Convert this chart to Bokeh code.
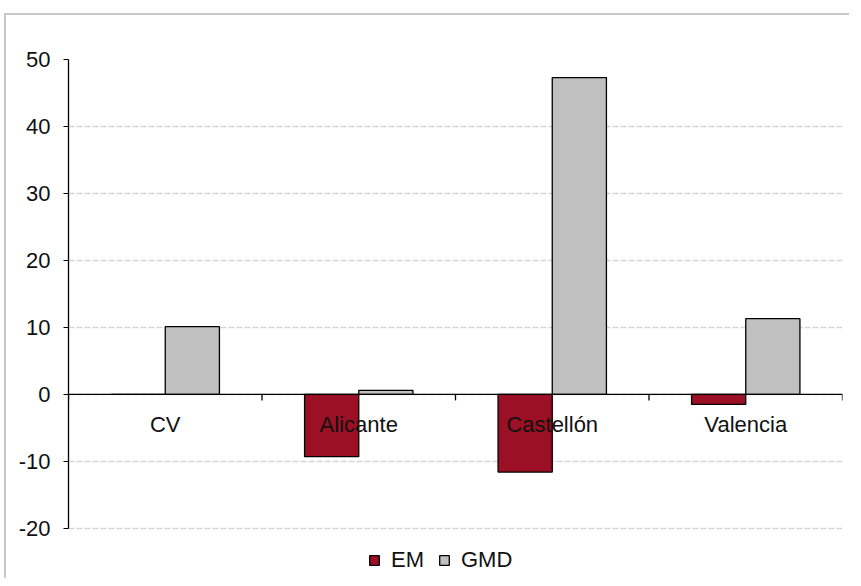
from bokeh.plotting import figure
from bokeh.models import FixedTicker, Legend, LegendItem, Range1d, ColumnDataSource, Span
from bokeh.core.properties import value
from bokeh.embed import file_html
from bokeh.resources import INLINE

categories = ["CV", "Alicante", "Castellón", "Valencia"]
em = [0.0, -9.3, -11.6, -1.5]
gmd = [10.1, 0.6, 47.3, 11.3]
y_ticks = [-20, -10, 0, 10, 20, 30, 40, 50]
y_min, y_max = -20, 50

pos = [i + 1 for i in range(len(categories))]
src = ColumnDataSource(dict(
    x=pos,
    x_em=[p_ - 0.14 for p_ in pos],
    x_gmd=[p_ + 0.14 for p_ in pos],
    em=em, gmd=gmd, cat=categories, zero=[0] * len(pos),
))
boundaries = [i + 0.5 for i in range(len(categories) + 1)]

FONT = "Liberation Sans"

p = figure(width=845, height=565, output_backend="svg", toolbar_location=None,
           x_range=Range1d(0.5, len(categories) + 0.5), y_range=Range1d(-26.9, y_max),
           x_axis_location=None,
           min_border_left=62, min_border_right=9, min_border_top=44, min_border_bottom=6)
p.styles = {"margin-top": "13px", "margin-left": "4px",
            "border-top": "2px solid #c8c8c8", "border-left": "2px solid #c8c8c8"}
p.outline_line_color = None
p.background_fill_color = "white"

r_em = p.vbar(x="x_em", top="em", bottom=0, width=0.28, source=src,
              fill_color="#9b1024", line_color="black", line_width=1.3)
r_gmd = p.vbar(x="x_gmd", top="gmd", bottom=0, width=0.28, source=src,
               fill_color="#c0c0c0", line_color="black", line_width=1.3)

# x axis line at y = 0 with boundary ticks and category labels
p.add_layout(Span(location=0, dimension="width", line_color="black", line_width=1.3))
p.segment(x0=boundaries, x1=boundaries, y0=[0] * len(boundaries),
          y1=[-0.9] * len(boundaries), line_color="black", line_width=1.3)
p.text(x="x", y="zero", text="cat", source=src, text_font=value(FONT),
       text_font_size="22px", text_color="#111111", text_align="center",
       text_baseline="middle", y_offset=30)

# y axis
p.yaxis.ticker = FixedTicker(ticks=y_ticks)
p.yaxis.bounds = (y_min, y_max)
p.yaxis.major_label_overrides = {t: str(t) for t in y_ticks}
p.yaxis.axis_line_color = "black"
p.yaxis.axis_line_width = 1.3
p.yaxis.major_tick_out = 5
p.yaxis.major_tick_in = 0
p.yaxis.minor_tick_line_color = None
p.yaxis.major_label_text_font = FONT
p.yaxis.major_label_text_font_size = "22px"
p.yaxis.major_label_text_color = "#111111"
p.yaxis.major_label_standoff = 13

p.xgrid.grid_line_color = None
p.ygrid.ticker = FixedTicker(ticks=y_ticks)
p.ygrid.grid_line_color = "#d6d6d6"
p.ygrid.grid_line_dash = "6 2"
p.ygrid.grid_line_width = 1.3

legend = Legend(items=[LegendItem(label="EM", renderers=[r_em]),
                       LegendItem(label="GMD", renderers=[r_gmd])],
                orientation="horizontal", location=(300, 1),
                label_text_font=FONT, label_text_font_size="22px",
                label_text_color="#111111",
                glyph_width=12, glyph_height=12, spacing=14, label_standoff=11,
                border_line_color=None, background_fill_alpha=0,
                padding=4, margin=0)
p.add_layout(legend)

open("out.html", "w").write(file_html(p, INLINE))
